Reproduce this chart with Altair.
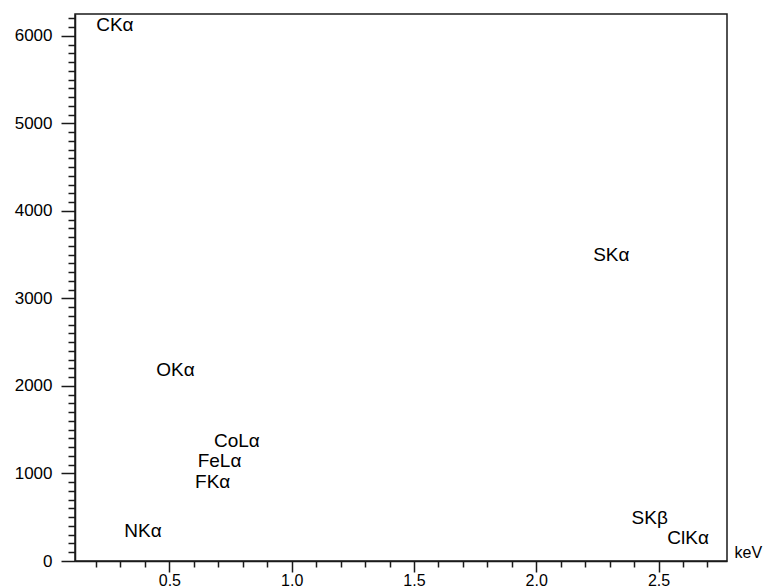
import altair as alt
import pandas as pd

# Emission-line labels placed at their peak energy (keV) and peak height (counts)
lines = ["CKα", "NKα", "OKα", "FKα", "FeLα", "CoLα", "SKα", "SKβ", "ClKα"]
energy_kev = [0.277, 0.392, 0.525, 0.677, 0.705, 0.776, 2.307, 2.464, 2.621]
counts = [6130, 343, 2177, 898, 1142, 1376, 3500, 489, 260]

x_major = [0.5, 1.0, 1.5, 2.0, 2.5]
x_minor = [0.2, 0.3, 0.4, 0.6, 0.7, 0.8, 0.9, 1.1, 1.2, 1.3, 1.4, 1.6, 1.7,
           1.8, 1.9, 2.1, 2.2, 2.3, 2.4, 2.6, 2.7]
y_major = [0, 1000, 2000, 3000, 4000, 5000, 6000]
y_minor = [v for v in range(100, 6300, 100) if v % 1000 != 0]

df = pd.DataFrame({"line": lines, "energy": energy_kev, "counts": counts})

FONT = "Liberation Sans"
INK = "#1a1a1a"

x_scale = alt.Scale(domain=[0.114, 2.78], nice=False, zero=False)
y_scale = alt.Scale(domain=[0, 6250], nice=False)

labels = alt.Chart(df).mark_text(
    font=FONT, fontSize=19, align="center", baseline="middle", color="black"
).encode(
    x=alt.X("energy:Q", scale=x_scale, axis=alt.Axis(
        orient="bottom", values=x_major, format=".1f", grid=False,
        tickSize=11, tickWidth=1.5, tickColor=INK,
        domainColor=INK, domainWidth=1.5,
        labelFont=FONT, labelFontSize=16, labelColor="black", labelPadding=0,
        title="keV", titleFont=FONT, titleFontSize=16, titleFontWeight="normal",
        titleColor="black", titleX=659, titleY=-9, titleAlign="left",
        titleBaseline="middle", titleAngle=0)),
    y=alt.Y("counts:Q", scale=y_scale, axis=alt.Axis(
        orient="left", values=y_major, format="d", grid=False,
        tickSize=14, tickWidth=1.5, tickColor=INK,
        domainColor=INK, domainWidth=1.5,
        labelFont=FONT, labelFontSize=17, labelColor="black", labelPadding=9,
        title="")),
    text="line:N",
)

# Invisible layer that carries the minor tick marks on both axes
minor = alt.Chart(df).mark_point(opacity=0).encode(
    x=alt.X("energy:Q", scale=x_scale, axis=alt.Axis(
        orient="bottom", values=x_minor, labels=False, grid=False, domain=False,
        tickSize=6, tickWidth=1.5, tickColor=INK, title="")),
    y=alt.Y("counts:Q", scale=y_scale, axis=alt.Axis(
        orient="left", values=y_minor, labels=False, grid=False, domain=False,
        tickSize=7, tickWidth=1.5, tickColor=INK, title="")),
)

chart = alt.layer(labels, minor).resolve_axis(
    x="independent", y="independent"
).properties(
    width=652, height=547,
    autosize=alt.AutoSizeParams(type="none"),
    padding={"left": 75, "top": 14, "right": 37, "bottom": 27},
    background="white",
).configure_view(stroke=INK, strokeWidth=1.5)

chart.save("out.html", embed_options={"renderer": "svg", "actions": False})
